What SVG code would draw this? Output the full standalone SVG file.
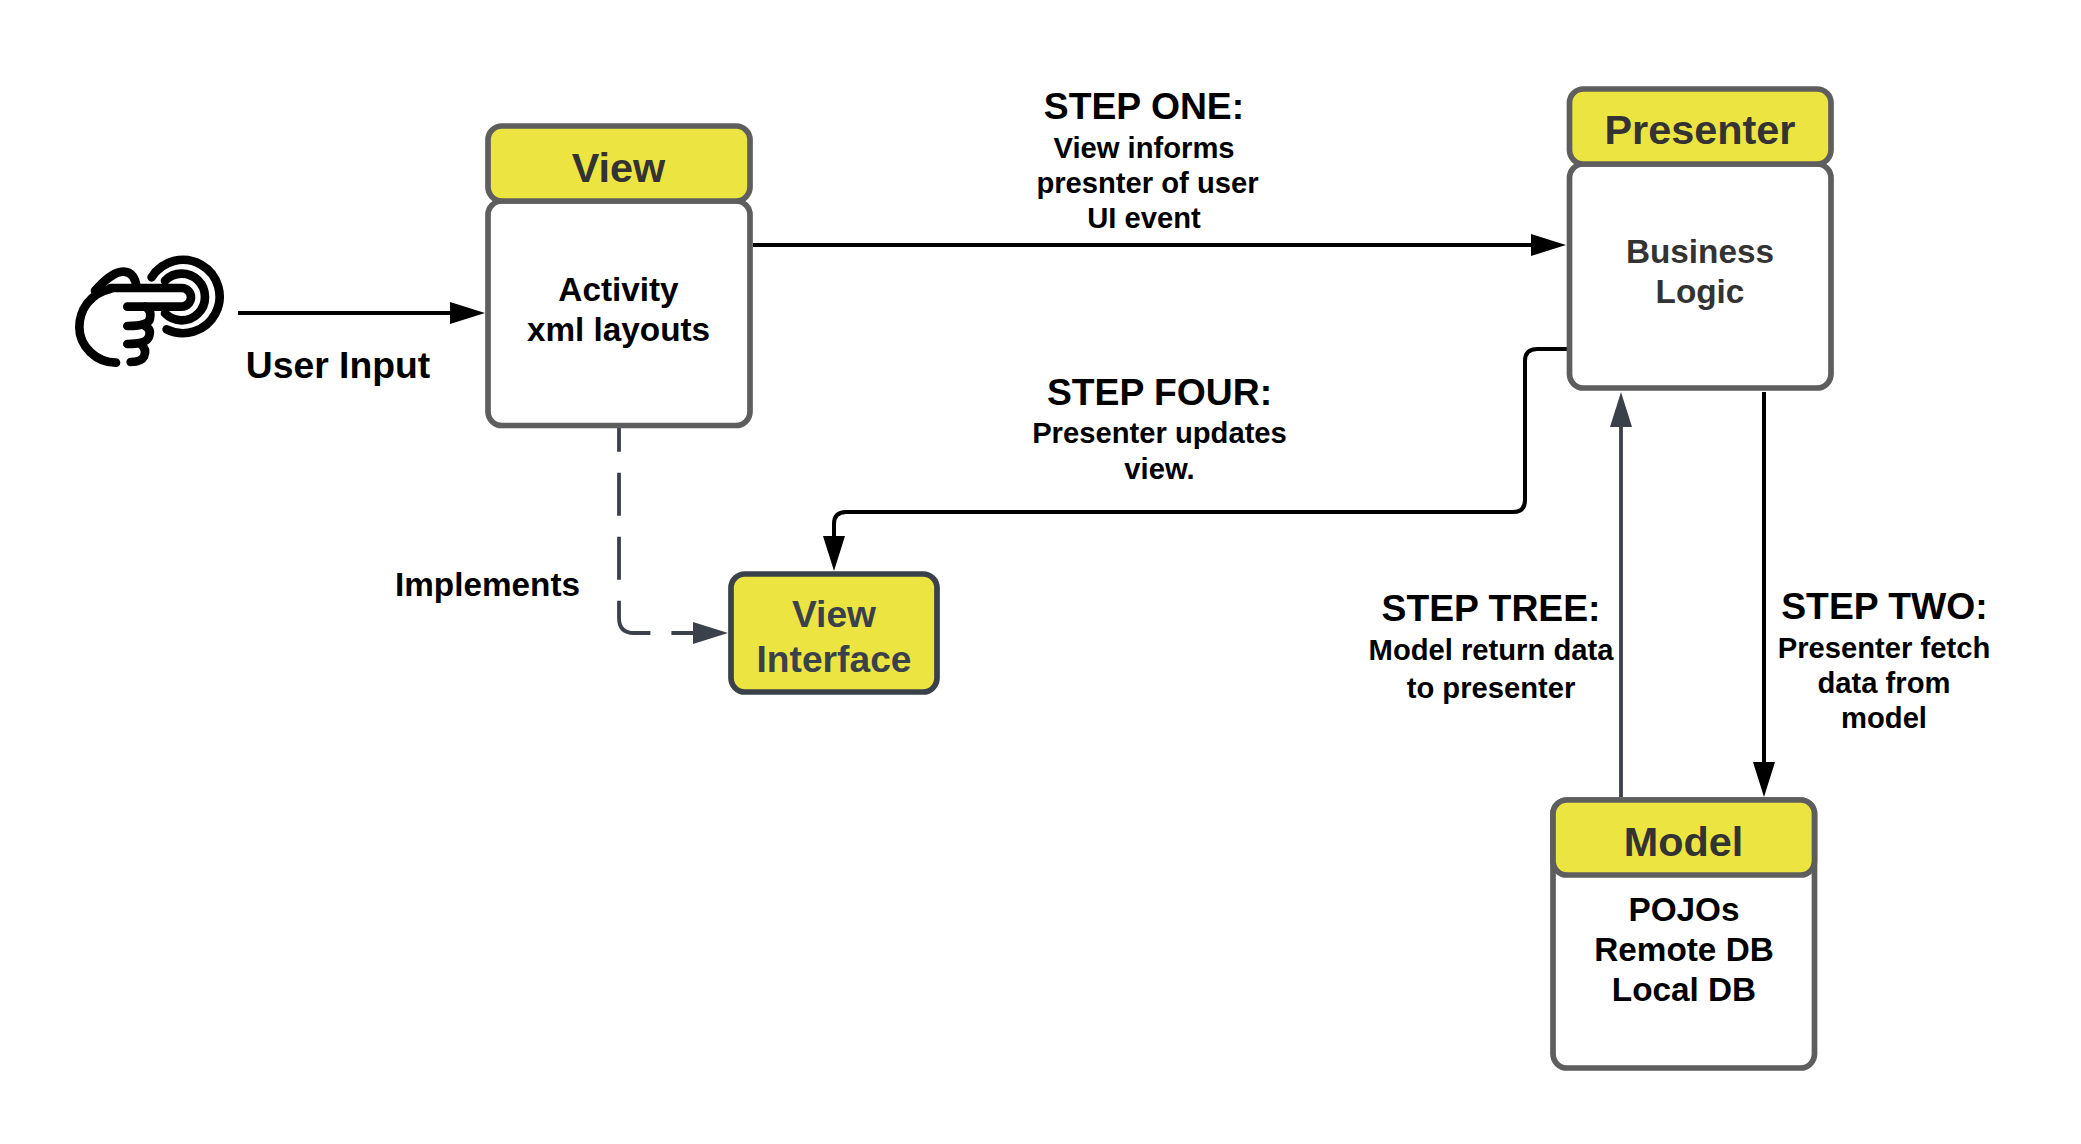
<svg xmlns="http://www.w3.org/2000/svg" width="2081" height="1144" viewBox="0 0 2081 1144">
<defs>
<marker id="ah-k" markerUnits="userSpaceOnUse" markerWidth="36" markerHeight="24" viewBox="0 0 36 24" refX="1" refY="12" orient="auto"><path d="M0 1 L35 12 L0 23 Z" fill="#000"/></marker>
<marker id="ah-d" markerUnits="userSpaceOnUse" markerWidth="36" markerHeight="24" viewBox="0 0 36 24" refX="1" refY="12" orient="auto"><path d="M0 1 L35 12 L0 23 Z" fill="#3a414a"/></marker>
</defs>
<style>
text{font-family:"Liberation Sans",Arial,sans-serif;font-weight:700;text-anchor:middle;fill:#000}
.hd{font-size:41.4px;fill:#333}
.body{font-size:33.3px}
.step{font-size:37.3px}
.note{font-size:29.2px}
.head{fill:#ece541;stroke:#5e5e5e;stroke-width:5.7}
.box{fill:#fff;stroke:#5e5e5e;stroke-width:5.7}
.c{fill:none;stroke:#000;stroke-width:4}
.d{fill:none;stroke:#3a414a;stroke-width:3.8}
.icon path{fill:none;stroke:#000;stroke-width:26;stroke-linecap:round;stroke-linejoin:round}
</style>
<rect width="2081" height="1144" fill="#fff"/>
<g id="connectors">
<path class="c" d="M238 313 H451" marker-end="url(#ah-k)"/>
<path class="c" d="M753 245 H1532" marker-end="url(#ah-k)"/>
<path class="c" d="M1567 349 H1537 Q1525 349 1525 361 V500 Q1525 512 1513 512 H846 Q834 512 834 524 V537" marker-end="url(#ah-k)"/>
<path class="d" d="M1621 797 V426" marker-end="url(#ah-d)"/>
<path class="c" d="M1764 392 V763" marker-end="url(#ah-k)"/>
<path class="d" d="M619 428 V618 Q619 633 634 633 H694" stroke-dasharray="23.7 21 43 21 43 21 57.9 21 100" marker-end="url(#ah-d)"/>
</g>
<g id="user-input-icon" class="icon" transform="translate(70 250) scale(.3333)">
<path d="M245 82 A110 110 0 1 1 290 238"/>
<path d="M285 92 A70 70 0 1 1 285 190"/>
<path d="M122 114 H335 A28 28 0 0 1 335 170 H172"/>
<path d="M122 116 C60 130 28 180 28 232 C28 290 80 338 138 338"/>
<path d="M75 122 C100 95 130 65 160 65 C185 65 197 85 200 113"/>
<path d="M225 170 Q245 178 240 205 Q237 228 172 228"/>
<path d="M225 228 Q245 238 237 260 Q230 282 172 282"/>
<path d="M212 282 Q232 298 222 320 Q214 336 182 336"/>
</g>
<text x="338" y="378" class="step">User Input</text>
<g id="view">
<rect class="box" x="488" y="201" width="262" height="224.500" rx="14"/>
<rect class="head" x="488" y="126" width="262" height="75" rx="14"/>
<text x="618.500" y="181.500" class="hd">View</text>
<text x="618.500" y="301" class="body">Activity</text>
<text x="618.500" y="341" class="body">xml layouts</text>
</g>
<g id="presenter">
<rect class="box" x="1569.500" y="164" width="261.500" height="224" rx="14"/>
<rect class="head" x="1569.500" y="89" width="261.500" height="75" rx="14"/>
<text x="1700" y="144" class="hd">Presenter</text>
<text x="1700" y="263" class="body" style="fill:#333">Business</text>
<text x="1700" y="303" class="body" style="fill:#333">Logic</text>
</g>
<g id="view-interface">
<rect x="731" y="574" width="206" height="118" rx="14" fill="#ece541" stroke="#3a414a" stroke-width="5.700"/>
<text x="834" y="627" style="font-size:37.2px;fill:#3a414a">View</text>
<text x="834" y="672" style="font-size:37.2px;fill:#3a414a">Interface</text>
</g>
<g id="model">
<rect class="box" x="1553" y="800" width="261.500" height="268" rx="14"/>
<rect class="head" x="1553" y="800" width="261.500" height="75" rx="14"/>
<text x="1683.500" y="856" class="hd">Model</text>
<text x="1684" y="921" class="body">POJOs</text>
<text x="1684" y="961" class="body">Remote DB</text>
<text x="1684" y="1001" class="body">Local DB</text>
</g>
<g id="labels">
<text x="1144" y="119" class="step">STEP ONE:</text>
<text x="1144" y="158" class="note">View informs</text>
<text x="1147.500" y="193" class="note">presnter of user</text>
<text x="1144" y="228" class="note">UI event</text>
<text x="1159.500" y="405" class="step">STEP FOUR:</text>
<text x="1159.500" y="443" class="note">Presenter updates</text>
<text x="1159.500" y="479" class="note">view.</text>
<text x="487.500" y="596" class="body">Implements</text>
<text x="1491" y="621" class="step">STEP TREE:</text>
<text x="1491" y="660" class="note">Model return data</text>
<text x="1491" y="698" class="note">to presenter</text>
<text x="1884.500" y="619" class="step">STEP TWO:</text>
<text x="1884" y="658" class="note">Presenter fetch</text>
<text x="1884" y="693" class="note">data from</text>
<text x="1884" y="728" class="note">model</text>
</g>
</svg>
